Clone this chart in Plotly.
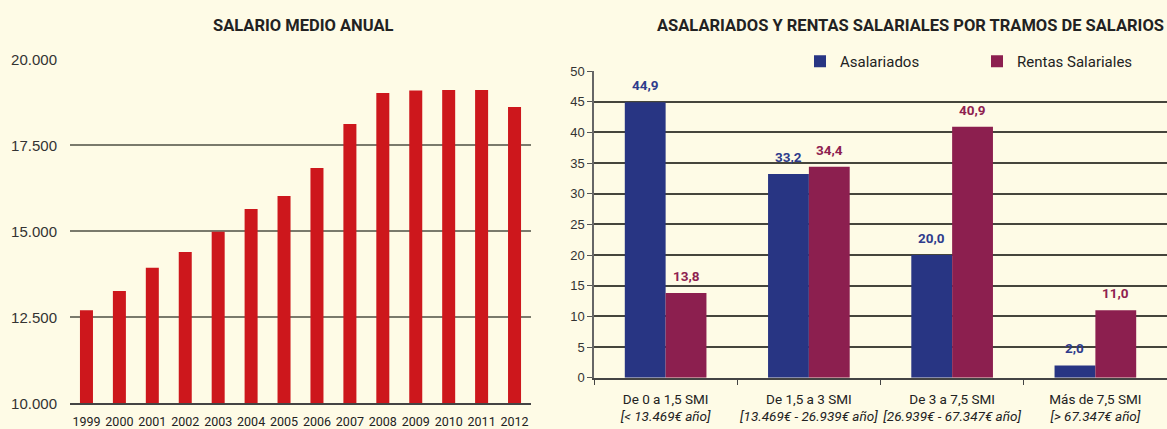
import plotly.graph_objects as go

# ---- data ----
years = ["1999", "2000", "2001", "2002", "2003", "2004", "2005",
         "2006", "2007", "2008", "2009", "2010", "2011", "2012"]
salario_medio = [12710, 13270, 13945, 14400, 14990, 15650, 16030,
                 16845, 18125, 19025, 19095, 19115, 19115, 18620]
left_ticks = [10000, 12500, 15000, 17500, 20000]
left_ticktext = ["10.000", "12.500", "15.000", "17.500", "20.000"]

tramos = ["De 0 a 1,5 SMI", "De 1,5 a 3 SMI", "De 3 a 7,5 SMI", "Más de 7,5 SMI"]
tramos_sub = ["[< 13.469€ año]", "[13.469€ - 26.939€ año]",
              "[26.939€ - 67.347€ año]", "[> 67.347€ año]"]
asalariados = [44.9, 33.2, 20.0, 2.0]
rentas = [13.8, 34.4, 40.9, 11.0]

title_left = "SALARIO MEDIO ANUAL"
title_right = "ASALARIADOS Y RENTAS SALARIALES POR TRAMOS DE SALARIOS"

# ---- style ----
W, H = 1167, 429
BG = "#FEFBE6"
NARROW = "Roboto, Liberation Sans, sans-serif"
REG = "Liberation Sans, Arial, sans-serif"
C_RED = "#CD171C"
C_BLUE = "#283583"
C_MAR = "#8C1F4F"
LBL_BLUE = "#2E3B8C"
LBL_MAR = "#8E2150"
BAR_HALF = 20.5  # px offset of each bar centre within its group


def fmt(v):
    return f"{v:.1f}".replace(".", ",")


def nf(size, color="#222", weight="normal"):
    return dict(family=NARROW, size=size, color=color, weight=weight)


cat_labels = [f"{a}<br><i>{b}</i>" for a, b in zip(tramos, tramos_sub)]

fig = go.Figure()

fig.add_trace(go.Bar(
    x=years, y=salario_medio, marker=dict(color=C_RED, line=dict(width=0)),
    width=0.395, xaxis="x", yaxis="y", showlegend=False, hoverinfo="x+y",
))

fig.add_trace(go.Bar(
    x=cat_labels, y=asalariados, name="Asalariados",
    marker=dict(color=C_BLUE, line=dict(width=0)),
    xaxis="x2", yaxis="y2",
))
fig.add_trace(go.Bar(
    x=cat_labels, y=rentas, name="Rentas Salariales",
    marker=dict(color=C_MAR, line=dict(width=0)),
    xaxis="x2", yaxis="y2",
))

annotations = [
    dict(text=f"<b>{title_left}</b>", x=303 / W, y=(H - 25) / H,
         xref="paper", yref="paper", showarrow=False,
         xanchor="center", yanchor="middle", font=nf(16.5)),
    dict(text=f"<b>{title_right}</b>", x=1166 / W, y=(H - 25) / H,
         xref="paper", yref="paper", showarrow=False,
         xanchor="right", yanchor="middle", font=nf(16.5)),
]
for cat, a, r in zip(cat_labels, asalariados, rentas):
    annotations.append(dict(
        text=f"<b>{fmt(a)}</b>", x=cat, y=a, xref="x2", yref="y2",
        xshift=-BAR_HALF, yshift=7, showarrow=False, yanchor="bottom",
        font=nf(13.5, LBL_BLUE)))
    annotations.append(dict(
        text=f"<b>{fmt(r)}</b>", x=cat, y=r, xref="x2", yref="y2",
        xshift=BAR_HALF, yshift=7, showarrow=False, yanchor="bottom",
        font=nf(13.5, LBL_MAR)))

fig.update_layout(
    width=W, height=H,
    margin=dict(l=0, r=0, t=0, b=0, autoexpand=False),
    paper_bgcolor=BG, plot_bgcolor=BG,
    barmode="group", bargap=0.43, bargroupgap=0,
    font=dict(family=REG, color="#333"),
    xaxis=dict(
        domain=[70 / W, 531 / W], type="category", automargin=False,
        showline=True, linecolor="#444", linewidth=1.5,
        showgrid=False, ticks="", fixedrange=True, tickangle=0,
        ticklabelstandoff=6,
        tickfont=nf(12.5),
    ),
    yaxis=dict(
        domain=[(H - 403.3) / H, (H - 59.5) / H], anchor="x", automargin=False,
        range=[10000, 20000], tickvals=left_ticks, ticktext=left_ticktext,
        showgrid=True, gridcolor="#7a7a6c", gridwidth=1.5,
        zeroline=False, showline=False, ticks="",
        ticklabelstandoff=12,
        tickfont=dict(family=REG, size=15, color="#333"),
    ),
    xaxis2=dict(
        domain=[594 / W, 1.0], type="category", anchor="y2", automargin=False,
        showline=True, linecolor="#444", linewidth=1.5, tickangle=0,
        ticks="outside", tickson="boundaries", ticklen=6, tickcolor="#444",
        showgrid=False, ticklabelstandoff=8,
        tickfont=nf(13.5),
    ),
    yaxis2=dict(
        domain=[(H - 377.7) / H, (H - 71) / H], anchor="x2", automargin=False,
        range=[0, 50], dtick=5,
        showgrid=True, gridcolor="#45453c", gridwidth=1.5,
        zeroline=False, showline=True, linecolor="#666", linewidth=1.5,
        ticks="outside", ticklen=5, tickcolor="#555",
        tickfont=dict(family=REG, size=13, color="#333"),
    ),
    legend=dict(
        orientation="h", x=800 / W, y=(H - 45) / H, xanchor="left", yanchor="top",
        bgcolor="rgba(0,0,0,0)", entrywidth=132, entrywidthmode="pixels",
        itemwidth=30,
        font=nf(15),
    ),
    annotations=annotations,
)

fig.write_html(
    "out.html",
    config={"displayModeBar": False},
    post_script="document.body.style.margin='0';document.body.style.background='%s';" % BG,
)
